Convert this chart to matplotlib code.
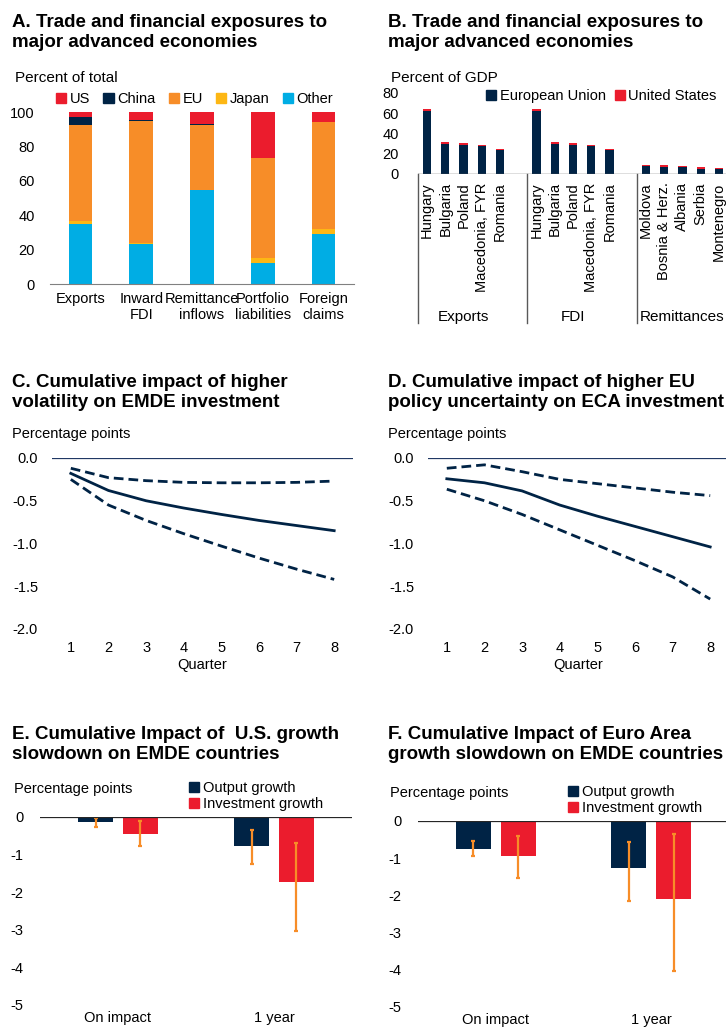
import numpy as np
import matplotlib
matplotlib.use('Agg')
import matplotlib.pyplot as plt
from matplotlib.patches import Patch

plt.rcParams['font.family'] = ['Liberation Sans', 'DejaVu Sans']
plt.rcParams['font.size'] = 10.5
plt.rcParams['axes.unicode_minus'] = False

NAVY = '#002345'
RED = '#EB1C2D'
ORANGE = '#F78D28'
YELLOW = '#FDB714'
CYAN = '#00ADE4'

# ---- data ----
# A. shares, percent of total
a_cats = ['Exports', 'Inward\nFDI', 'Remittance\ninflows', 'Portfolio\nliabilities', 'Foreign\nclaims']
a_other = [35.0, 23.0, 54.5, 12.0, 29.3]
a_japan = [1.6, 1.0, 0.4, 3.1, 2.4]
a_eu = [55.8, 70.6, 37.8, 58.2, 62.3]
a_china = [4.8, 0.8, 0.3, 0.0, 0.0]
a_us = [2.8, 4.6, 7.0, 26.7, 6.0]

# B. percent of GDP
b_groups = ['Exports', 'FDI', 'Remittances']
b_countries = [['Hungary', 'Bulgaria', 'Poland', 'Macedonia, FYR', 'Romania'],
               ['Hungary', 'Bulgaria', 'Poland', 'Macedonia, FYR', 'Romania'],
               ['Moldova', 'Bosnia & Herz.', 'Albania', 'Serbia', 'Montenegro']]
b_eu = [[62.0, 30.0, 29.0, 28.0, 23.8],
        [62.0, 30.0, 29.0, 28.0, 23.8],
        [7.6, 7.3, 7.3, 5.3, 5.3]]
b_us = [[2.5, 1.4, 1.4, 0.8, 1.0],
        [2.5, 1.4, 1.4, 0.8, 1.0],
        [1.3, 1.6, 1.0, 1.6, 0.7]]

# C. volatility
quarters = [1, 2, 3, 4, 5, 6, 7, 8]
c_mid = [-0.18, -0.38, -0.50, -0.585, -0.66, -0.73, -0.79, -0.85]
c_up = [-0.12, -0.23, -0.265, -0.285, -0.29, -0.29, -0.285, -0.27]
c_lo = [-0.25, -0.55, -0.73, -0.885, -1.03, -1.17, -1.30, -1.42]

# D. EU policy uncertainty
d_mid = [-0.243, -0.29, -0.385, -0.55, -0.68, -0.80, -0.92, -1.04]
d_up = [-0.12, -0.08, -0.16, -0.25, -0.30, -0.35, -0.40, -0.44]
d_lo = [-0.365, -0.50, -0.66, -0.84, -1.02, -1.20, -1.39, -1.65]

# E/F. growth slowdown
ef_cats = ['On impact', '1 year']
e_out = [-0.13, -0.77]
e_inv = [-0.44, -1.74]
e_out_hi = [-0.03, -0.34]
e_out_lo = [-0.27, -1.26]
e_inv_hi = [-0.11, -0.68]
e_inv_lo = [-0.78, -3.02]

f_out = [-0.74, -1.27]
f_inv = [-0.94, -2.10]
f_out_hi = [-0.54, -0.56]
f_out_lo = [-0.94, -2.14]
f_inv_hi = [-0.40, -0.36]
f_inv_lo = [-1.53, -4.04]

W, H = 726, 1029
fig = plt.figure(figsize=(W / 100, H / 100), dpi=100)


def add_ax(l, t, r, b):
    ax = fig.add_axes([l / W, 1 - b / H, (r - l) / W, (b - t) / H])
    for s in ax.spines.values():
        s.set_visible(False)
    return ax


def ftext(x, y, s, **kw):
    return fig.text(x / W, 1 - y / H, s, **kw)


def fleg(handles, labels, x, y, **kw):
    return fig.legend(handles, labels, loc='center left', bbox_to_anchor=(x / W, 1 - y / H),
                      frameon=False, borderpad=0, borderaxespad=0, handlelength=0.7,
                      handleheight=0.7, handletextpad=0.25, **kw)


def title(x, y, s):
    ftext(x, y, s, fontsize=13.5, fontweight='bold', va='top', linespacing=1.2)


# ---------------- A ----------------
title(12, 14, 'A. Trade and financial exposures to\nmajor advanced economies')
ax = add_ax(50, 112, 354, 284)
x = np.arange(len(a_cats))
w = 0.39
bottom = np.zeros(len(x))
for vals, col in [(a_other, CYAN), (a_japan, YELLOW), (a_eu, ORANGE), (a_china, NAVY), (a_us, RED)]:
    ax.bar(x, vals, w, bottom=bottom, color=col)
    bottom += np.array(vals)
ax.set_xlim(-0.5, 4.5)
ax.set_ylim(0, 100)
ax.set_yticks([0, 20, 40, 60, 80, 100])
ax.set_xticks(x)
ax.set_xticklabels(a_cats, linespacing=1.15)
ax.tick_params(length=0)
ax.tick_params(axis='y', pad=11)
ax.tick_params(axis='x', pad=6)
ax.spines['bottom'].set_visible(True)
ax.spines['bottom'].set_color('#808080')
ftext(15, 82, 'Percent of total', va='baseline', fontsize=11)
fleg([Patch(color=c) for c in [RED, NAVY, ORANGE, YELLOW, CYAN]],
     ['US', 'China', 'EU', 'Japan', 'Other'], 56, 99, ncol=5, columnspacing=0.9)

# ---------------- B ----------------
title(388, 14, 'B. Trade and financial exposures to\nmajor advanced economies')
ax = add_ax(418, 93, 728, 174)
pos, labels, eu_all, us_all = [], [], [], []
for g in range(3):
    for i in range(5):
        pos.append(g * 6 + i)
        labels.append(b_countries[g][i])
        eu_all.append(b_eu[g][i])
        us_all.append(b_us[g][i])
ax.bar(pos, eu_all, 0.45, color=NAVY)
ax.bar(pos, us_all, 0.45, bottom=eu_all, color=RED)
ax.set_xlim(-0.5, 16.5)
ax.set_ylim(0, 80)
ax.set_yticks([0, 20, 40, 60, 80])
ax.set_xticks(pos)
ax.set_xticklabels(labels, rotation=90, va='top', ha='center')
ax.tick_params(length=0)
ax.tick_params(axis='y', pad=14)
ax.tick_params(axis='x', pad=6)
ax.axhline(0, color='#595959', lw=1)
tr = ax.get_xaxis_transform()
for xs in [-0.5, 5.5, 11.5]:
    ax.plot([xs, xs], [0, -1.84], transform=tr, color='#595959', lw=1, clip_on=False)
for g, name in enumerate(b_groups):
    ax.text(g * 6 + 2, -1.76, name, transform=tr, ha='center', va='center', fontsize=11)
ftext(391, 82, 'Percent of GDP', va='baseline', fontsize=11)
fleg([Patch(color=NAVY), Patch(color=RED)], ['European Union', 'United States'], 486, 96,
     ncol=2, columnspacing=0.6)


# ---------------- C / D ----------------
def impulse(l, r, mid, up, lo, ttl, tx):
    title(tx, 374, ttl)
    ax = add_ax(l, 458, r, 629)
    ax.plot(quarters, mid, color=NAVY, lw=2)
    ax.plot(quarters, up, color=NAVY, lw=2, ls=(0, (3.5, 1.8)))
    ax.plot(quarters, lo, color=NAVY, lw=2, ls=(0, (3.5, 1.8)))
    ax.axhline(0, color='#203864', lw=0.9)
    ax.set_xlim(0.5, 8.5)
    ax.set_ylim(-2.0, 0.0)
    ax.set_yticks([-2.0, -1.5, -1.0, -0.5, 0.0])
    ax.set_yticklabels(['%.1f' % v for v in [-2.0, -1.5, -1.0, -0.5, 0.0]])
    ax.set_xticks(quarters)
    ax.tick_params(length=0)
    ax.tick_params(axis='y', pad=10)
    ax.tick_params(axis='x', pad=9)
    ax.set_xlabel('Quarter', labelpad=2)
    ftext(tx, 438, 'Percentage points', va='baseline')


impulse(52, 353, c_mid, c_up, c_lo, 'C. Cumulative impact of higher\nvolatility on EMDE investment', 12)
impulse(428, 729, d_mid, d_up, d_lo, 'D. Cumulative impact of higher EU\npolicy uncertainty on ECA investment', 388)


# ---------------- E / F ----------------
def slowdown(l, r, top, bot, out, inv, ohi, olo, ihi, ilo, ttl, tx, legx):
    title(tx, 726, ttl)
    ax = add_ax(l, top, r, bot)
    x = np.arange(len(ef_cats))
    w = 0.224
    off = 0.144
    ax.bar(x - off, out, w, color=NAVY)
    ax.bar(x + off, inv, w, color=RED)
    for xs, hi, lo in [(x - off, ohi, olo), (x + off, ihi, ilo)]:
        mid = (np.array(hi) + np.array(lo)) / 2
        err = (np.array(hi) - np.array(lo)) / 2
        ax.errorbar(xs, mid, yerr=err, fmt='none', ecolor=ORANGE, elinewidth=1.6,
                    capsize=1.5, capthick=1.6)
    ax.axhline(0, color='#262626', lw=0.9)
    ax.set_xlim(-0.5, 1.5)
    ax.set_ylim(-5, 0)
    ax.set_yticks([-5, -4, -3, -2, -1, 0])
    ax.set_xticks(x)
    ax.set_xticklabels(ef_cats)
    ax.tick_params(length=0)
    ax.tick_params(axis='y', pad=12)
    ax.tick_params(axis='x', pad=4)
    ftext(tx + 2, top - 24, 'Percentage points', va='baseline')
    fleg([Patch(color=NAVY), Patch(color=RED)], ['Output growth', 'Investment growth'],
         legx, top - 21, ncol=1, labelspacing=0.15)


slowdown(40, 352, 817, 1005, e_out, e_inv, e_out_hi, e_out_lo, e_inv_hi, e_inv_lo,
         'E. Cumulative Impact of  U.S. growth\nslowdown on EMDE countries', 12, 189)
slowdown(418, 729, 821, 1007, f_out, f_inv, f_out_hi, f_out_lo, f_inv_hi, f_inv_lo,
         'F. Cumulative Impact of Euro Area\ngrowth slowdown on EMDE countries', 388, 568)

fig.savefig('out.png', dpi=100)
